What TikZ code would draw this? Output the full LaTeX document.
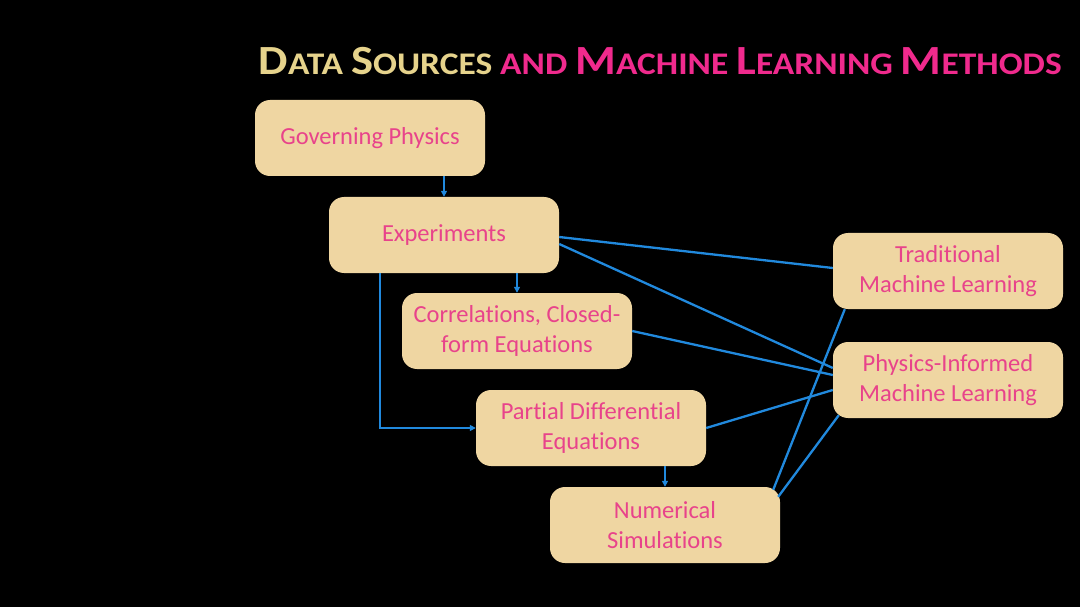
\documentclass[tikz,border=0pt]{standalone}
\usepackage{fontspec}
\setmainfont[Ligatures=NoCommon]{Carlito}
\usetikzlibrary{calc,arrows.meta}
\definecolor{boxfill}{HTML}{EFD6A2}
\definecolor{boxtext}{HTML}{E8438B}
\definecolor{tgold}{HTML}{E6D38C}
\definecolor{tpink}{HTML}{F02A8D}
\definecolor{lnblue}{HTML}{2189DD}
\tikzset{
  databox/.style={rounded corners=15pt, fill=boxfill, draw=none, minimum width=230pt, minimum height=76pt,
    text=boxtext, align=center, font=\fontsize{24.5}{29.5}\selectfont, inner sep=0pt},
  link/.style={draw=lnblue, line width=2.3pt},
  arr/.style={link, -{Triangle[length=6pt,width=6pt]}},
}
\newcommand{\bigsc}[1]{{\fontsize{41.5}{46}\selectfont #1}}
\newcommand{\smsc}[1]{{\fontsize{31.5}{36}\selectfont #1}}
\begin{document}
\begin{tikzpicture}[x=1pt,y=-1pt]
\fill[black] (0,0) rectangle (1080,607);
\useasboundingbox (0,0) rectangle (1080,607);

\node[anchor=base east, inner sep=0pt, font=\bfseries] (title) at (1062,74.5)
  {\resizebox{803pt}{\height}{\textcolor{tgold}{\bigsc{D}\smsc{ATA }\bigsc{S}\smsc{OURCES }}\textcolor{tpink}{\smsc{AND }\bigsc{M}\smsc{ACHINE }\bigsc{L}\smsc{EARNING }\bigsc{M}\smsc{ETHODS}}}};

\node[databox] (gp)   at (370,138) {Governing Physics};
\node[databox] (exp)  at (444,235) {Experiments};
\node[databox] (corr) at (517,331) {Correlations, Closed-\\form Equations};
\node[databox] (pde)  at (591,428) {Partial Differential\\Equations};
\node[databox] (num)  at (665,525) {Numerical\\Simulations};
\node[databox] (tml)  at (948,271) {Traditional\\Machine Learning};
\node[databox] (piml) at (948,380) {Physics-Informed\\Machine Learning};

\draw[arr] (gp.south -| exp.north) -- (exp.north);
\draw[arr] (exp.south -| corr.north) -- (corr.north);
\draw[arr] (pde.south -| num.north) -- (num.north);
\draw[arr] ($(exp.south west)+(51,0)$) |- (pde.west);

\draw[link] ($(exp.east)+(0,2)$) -- ($(tml.west)+(0,-3)$);
\draw[link] ($(exp.east)+(0,9)$) -- ($(piml.west)+(0,-12)$);
\draw[link] (corr.east) -- ($(piml.west)+(0,-5)$);
\draw[link] (pde.east) -- ($(piml.west)+(0,10)$);
\draw[link] ($(num.north east)+(-7,3)$) -- ($(tml.south west)+(12,0)$);
\draw[link] ($(num.north east)+(-2,10)$) -- ($(piml.south west)+(6,-3)$);
\end{tikzpicture}
\end{document}
